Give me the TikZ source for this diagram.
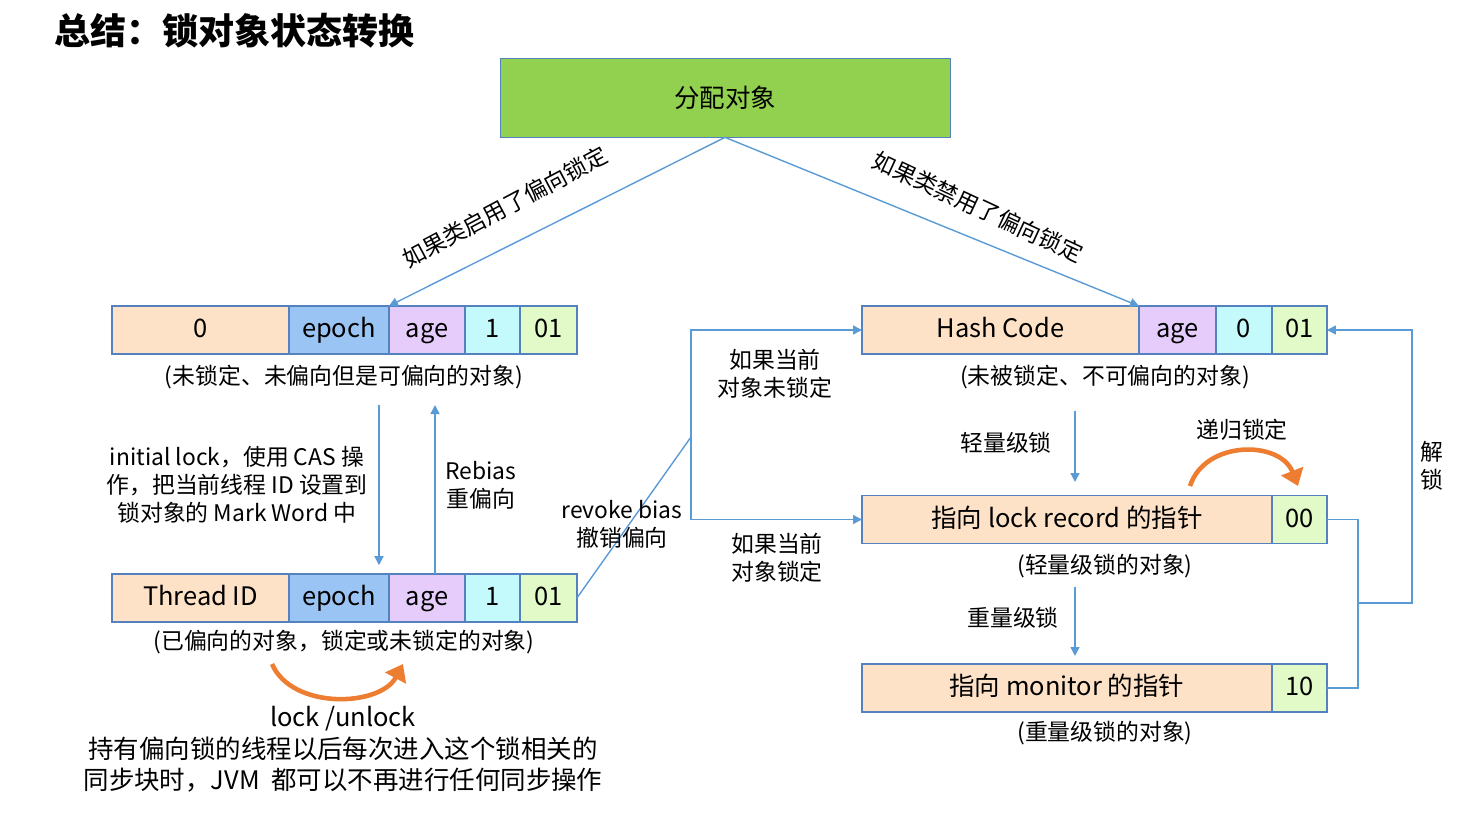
\documentclass[tikz,border=0pt]{standalone}
\usepackage{fontspec}
\setmainfont{Noto Sans CJK SC}
\usepackage{xcolor}
\usetikzlibrary{arrows.meta,positioning}
\definecolor{peach}{RGB}{253,226,200}
\definecolor{epochc}{RGB}{153,196,244}
\definecolor{agec}{RGB}{230,204,250}
\definecolor{bitc}{RGB}{197,250,252}
\definecolor{tagc}{RGB}{226,250,200}
\definecolor{bdr}{RGB}{84,130,190}
\definecolor{lnc}{RGB}{91,155,213}
\definecolor{orc}{RGB}{237,125,49}
\definecolor{grc}{RGB}{146,208,80}
\tikzset{
  cell/.style={draw=bdr,line width=0.8pt,minimum height=0.96cm,inner sep=0pt,outer sep=0pt,
    text height=0.92em,text depth=0.05em,font=\fontsize{14.5}{16}\selectfont},
  lbl/.style={align=center,inner sep=0pt,font=\fontsize{13}{16}\selectfont},
  ln/.style={draw=lnc,line width=0.8pt},
  arr/.style={ln,-{Triangle[length=1.8mm,width=1.8mm]}},
  oarr/.style={draw=orc,line width=2.6pt,-{Triangle[length=3.2mm,width=4.6mm]}},
}
\begin{document}
\begin{tikzpicture}[x=0.02cm,y=-0.02cm]
\useasboundingbox (0,0) rectangle (1471,815);
\node[anchor=west,font=\fontsize{20.5}{24}\selectfont\bfseries] (title) at (48,31) {总结：锁对象状态转换};
\node[draw=bdr,fill=grc,minimum width=9cm,minimum height=1.58cm,font=\fontsize{14.5}{16}\selectfont] (g) at (725,97.5) {分配对象};
\foreach \r/\y/\t in {a/330/0,b/598/Thread ID} {
  \node[cell,fill=peach,minimum width=3.54cm,anchor=west] (\r0) at (112,\y) {\t};
  \node[cell,fill=epochc,minimum width=2cm,right=0pt of \r0] (\r1) {epoch};
  \node[cell,fill=agec,minimum width=1.52cm,right=0pt of \r1] (\r2) {age};
  \node[cell,fill=bitc,minimum width=1.1cm,right=0pt of \r2] (\r3) {1};
  \node[cell,fill=tagc,minimum width=1.14cm,right=0pt of \r3] (\r4) {01};
}
\node[cell,fill=peach,minimum width=5.54cm,anchor=west] (h0) at (862,330) {Hash Code};
\node[cell,fill=agec,minimum width=1.54cm,right=0pt of h0] (h1) {age};
\node[cell,fill=bitc,minimum width=1.12cm,right=0pt of h1] (h2) {0};
\node[cell,fill=tagc,minimum width=1.1cm,right=0pt of h2] (h3) {01};
\node[cell,fill=peach,minimum width=8.2cm,anchor=west] (lr) at (862,519.5) {指向 lock record 的指针};
\node[cell,fill=tagc,minimum width=1.1cm,right=0pt of lr] (lr1) {00};
\node[cell,fill=peach,minimum width=8.2cm,anchor=west] (mo) at (862,688) {指向 monitor 的指针};
\node[cell,fill=tagc,minimum width=1.1cm,right=0pt of mo] (mo1) {10};
\node[lbl] (ca) at (344,377) {(未锁定、未偏向但是可偏向的对象)};
\node[lbl] (cb) at (344,642) {(已偏向的对象，锁定或未锁定的对象)};
\node[lbl] (ch) at (1105,377) {(未被锁定、不可偏向的对象)};
\node[lbl] (cl) at (1105,566) {(轻量级锁的对象)};
\node[lbl] (cm) at (1105,733) {(重量级锁的对象)};
\draw[arr] (g.south) -- (a2.north west);
\draw[arr] (g.south) -- (h0.north east);
\node[lbl,rotate=28] (en) at (505,207) {如果类启用了偏向锁定};
\node[lbl,rotate=-25] (dis) at (978,207) {如果类禁用了偏向锁定};
\coordinate (il) at (379,405);
\coordinate (rb) at (435,405);
\draw[arr,shorten >=5pt] (il) -- (il |- b0.north);
\draw[arr] (rb |- b0.north) -- (rb);
\node[lbl] (init) at (237,485) {initial lock，使用 CAS 操\\作，把当前线程 ID 设置到\\锁对象的 Mark Word 中};
\node[lbl] (rebias) at (481,485) {Rebias\\重偏向};
\coordinate (sp) at (691,437);
\draw[ln] (b4.east) -- (sp);
\draw[arr] (sp) |- (h0.west);
\draw[arr] (sp) |- (lr.west);
\node[lbl] (revoke) at (622,524) {revoke bias\\撤销偏向};
\node[lbl] (unl) at (775,374) {如果当前\\对象未锁定};
\node[lbl] (lkd) at (777,558) {如果当前\\对象锁定};
\coordinate (l1) at (1075,411);
\coordinate (l2) at (1075,482);
\coordinate (m1) at (1075,587);
\coordinate (m2) at (1075,656);
\draw[arr] (l1) -- (l2);
\draw[arr] (m1) -- (m2);
\node[lbl] (light) at (1006,443) {轻量级锁};
\node[lbl] (heavy) at (1013,618) {重量级锁};
\draw[oarr] (1190,486) .. controls (1205,440) and (1280,440) .. (1298,486);
\node[lbl] (rec) at (1242,430) {递归锁定};
\draw[ln] (lr1.east) -- ++(31,0) |- (mo1.east);
\coordinate (uj) at (1358,603);
\draw[arr] (uj) -- (1412,603) |- (h3.east);
\node[lbl] (unlock) at (1432,466) {解\\锁};
\draw[oarr] (272,664) .. controls (292,710) and (380,707) .. (403,664);
\node[lbl,font=\fontsize{14.5}{17.9}\selectfont] (note) at (343,749.5) {lock /unlock\\持有偏向锁的线程以后每次进入这个锁相关的\\同步块时，JVM\ \ 都可以不再进行任何同步操作};
\end{tikzpicture}
\end{document}
